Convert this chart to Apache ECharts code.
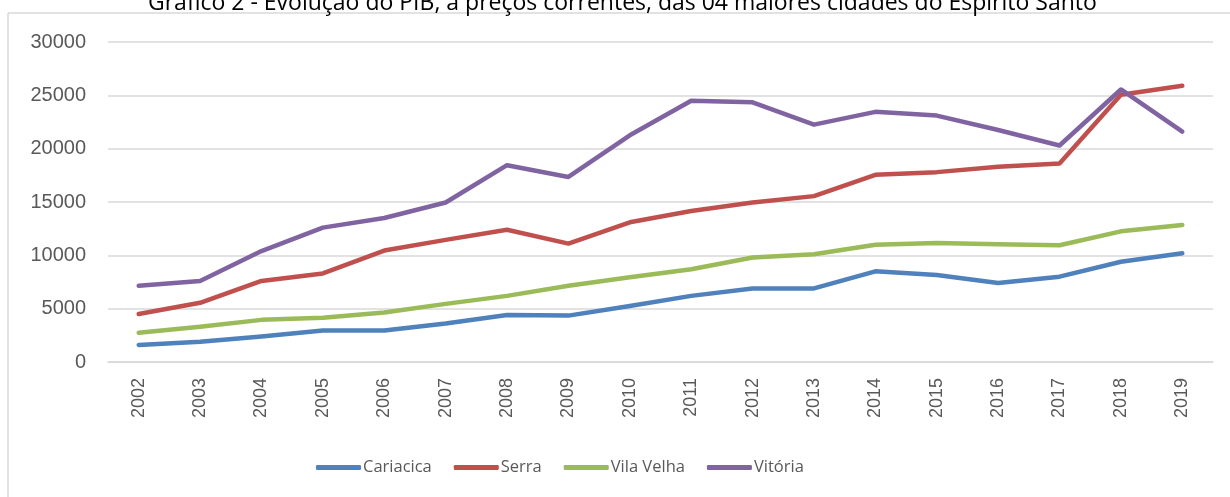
<!DOCTYPE html>
<html lang="pt">

<head>
    <meta charset="UTF-8">
    <title>PIB</title>
    <script src="https://cdn.jsdelivr.net/npm/echarts@6/dist/echarts.min.js"></script>
    <style>
        html, body { margin: 0; padding: 0; background: #fff; }
        #chart { width: 1230px; height: 497px; }
    </style>
</head>

<body>
    <div id="chart"></div>

    <script>
        var anos = ['2002', '2003', '2004', '2005', '2006', '2007', '2008', '2009', '2010',
            '2011', '2012', '2013', '2014', '2015', '2016', '2017', '2018', '2019'];
        var cariacica = [1600, 1900, 2400, 2950, 2950, 3600, 4400, 4350, 5250,
            6200, 6900, 6900, 8500, 8150, 7400, 8000, 9400, 10200];
        var serra = [4500, 5550, 7600, 8300, 10450, 11450, 12400, 11100, 13100,
            14150, 14950, 15550, 17550, 17800, 18300, 18600, 25050, 25900];
        var vilaVelha = [2750, 3300, 3950, 4150, 4650, 5450, 6200, 7150, 7950,
            8700, 9800, 10100, 11000, 11150, 11050, 10950, 12250, 12850];
        var vitoria = [7150, 7600, 10400, 12600, 13500, 14950, 18450, 17350, 21250,
            24500, 24350, 22250, 23450, 23100, 21750, 20300, 25550, 21600];

        var cores = ['#4F81BD', '#C0504D', '#9BBB59', '#8064A2'];

        function serie(nome, dados) {
            return {
                name: nome,
                type: 'line',
                data: dados,
                symbol: 'none',
                lineStyle: { width: 4.5, cap: 'round', join: 'round' }
            };
        }

        var chart = echarts.init(document.getElementById('chart'));
        chart.setOption({
            color: cores,
            animation: false,
            title: {
                text: 'Gráfico 2 - Evolução do PIB, a preços correntes, das 04 maiores cidades do Espírito Santo',
                left: 143,
                top: -13,
                textStyle: {
                    fontFamily: 'Open Sans',
                    fontSize: 23,
                    fontWeight: 'normal',
                    color: '#000'
                }
            },
            graphic: [
                { type: 'line', shape: { x1: 8, y1: 13, x2: 1230, y2: 13 }, style: { stroke: '#d9d9d9', lineWidth: 1.5 } },
                { type: 'line', shape: { x1: 8, y1: 13, x2: 8, y2: 497 }, style: { stroke: '#d9d9d9', lineWidth: 1.5 } }
            ],
            legend: {
                bottom: 16,
                left: 311,
                itemWidth: 45,
                itemHeight: 5,
                itemGap: 22,
                icon: 'roundRect',
                textStyle: { fontFamily: 'Open Sans', fontSize: 16.5, color: '#595959', padding: [0, 0, 0, -3] },
                data: ['Cariacica', 'Serra', 'Vila Velha', 'Vitória']
            },
            grid: { left: 108, right: 17, top: 42, bottom: 135 },
            xAxis: {
                type: 'category',
                data: anos,
                boundaryGap: true,
                axisLine: { lineStyle: { color: '#d9d9d9', width: 1.5 } },
                axisTick: { show: false },
                axisLabel: {
                    rotate: 90,
                    margin: 16,
                    fontFamily: 'Liberation Sans',
                    fontSize: 18,
                    color: '#595959'
                }
            },
            yAxis: {
                type: 'value',
                min: 0,
                max: 30000,
                interval: 5000,
                axisLine: { show: false },
                axisTick: { show: false },
                splitLine: { lineStyle: { color: '#d9d9d9', width: 1.5 } },
                axisLabel: {
                    margin: 22,
                    fontFamily: 'Liberation Sans',
                    fontSize: 20,
                    color: '#595959',
                    formatter: function (v) { return String(v); }
                }
            },
            series: [
                serie('Cariacica', cariacica),
                serie('Serra', serra),
                serie('Vila Velha', vilaVelha),
                serie('Vitória', vitoria)
            ]
        });
    </script>
</body>

</html>
